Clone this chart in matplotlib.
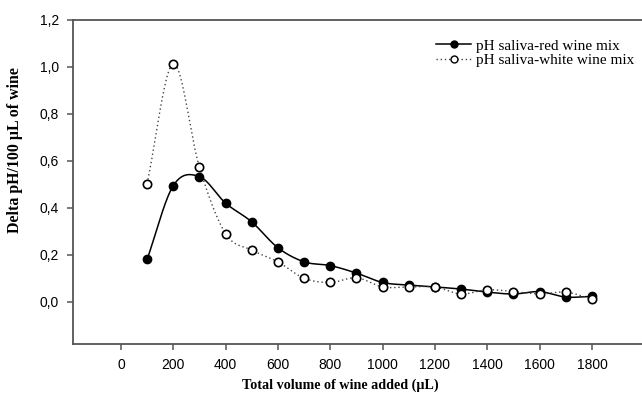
import numpy as np
import matplotlib
matplotlib.use("Agg")
import matplotlib.pyplot as plt
from matplotlib.ticker import FuncFormatter

# volumes added (uL)
volume = [100, 200, 300, 400, 500, 600, 700, 800, 900, 1000,
          1100, 1200, 1300, 1400, 1500, 1600, 1700, 1800]

red_wine = [0.18, 0.494, 0.533, 0.42, 0.34, 0.23, 0.17, 0.154, 0.122, 0.082,
            0.071, 0.063, 0.054, 0.041, 0.033, 0.043, 0.020, 0.023]
white_wine = [0.503, 1.014, 0.573, 0.29, 0.22, 0.17, 0.10, 0.082, 0.102, 0.063,
              0.063, 0.063, 0.033, 0.051, 0.043, 0.033, 0.041, 0.011]

x_ticks = [0, 200, 400, 600, 800, 1000, 1200, 1400, 1600, 1800]
y_ticks = [0.0, 0.2, 0.4, 0.6, 0.8, 1.0, 1.2]


def smooth(x, y, n=30):
    # catmull-rom style cubic through the points
    x = np.asarray(x, float)
    y = np.asarray(y, float)
    m = np.gradient(y, x)
    xs, ys = [], []
    for i in range(len(x) - 1):
        h = x[i + 1] - x[i]
        t = np.linspace(0, 1, n)
        h00 = 2 * t**3 - 3 * t**2 + 1
        h10 = t**3 - 2 * t**2 + t
        h01 = -2 * t**3 + 3 * t**2
        h11 = t**3 - t**2
        xs.append(x[i] + t * h)
        ys.append(h00 * y[i] + h10 * h * m[i] + h01 * y[i + 1] + h11 * h * m[i + 1])
    return np.concatenate(xs), np.concatenate(ys)


fig = plt.figure(figsize=(6.42, 3.96), dpi=100)
ax = fig.add_axes([0.1137, 0.1313, 0.8863, 0.8182])

sx, sy = smooth(volume, red_wine)
ax.plot(sx, sy, color='black', lw=1.1, zorder=2)
sx, sy = smooth(volume, white_wine)
ax.plot(sx, sy, color='#444444', lw=1.0, ls=(0, (1, 2)), zorder=2)

ax.plot(volume, red_wine, 'o', color='black', ms=6, zorder=3)
ax.plot(volume, white_wine, 'o', mfc='white', mec='black', mew=1.2, ms=6, zorder=3)

# legend proxies
h1, = ax.plot([], [], '-o', color='black', lw=1.1, ms=5)
h2, = ax.plot([], [], 'o', ls=(0, (1, 2)), color='#444444', lw=1.0,
              mfc='white', mec='black', ms=5)
ax.legend([h1, h2], ['pH saliva-red wine mix', 'pH saliva-white wine mix'],
          loc='upper right', bbox_to_anchor=(0.997, 0.96), frameon=False,
          prop={'family': 'Liberation Serif', 'size': 11},
          handlelength=2.3, handletextpad=0.3, labelspacing=0.05,
          borderaxespad=0)

ax.set_xlim(-183, 1991)
ax.set_ylim(-0.18, 1.2)
ax.set_xticks(x_ticks)
ax.set_yticks(y_ticks)
ax.yaxis.set_major_formatter(FuncFormatter(lambda v, p: ('%.1f' % v).replace('.', ',')))

for s in ['left', 'top', 'bottom']:
    ax.spines[s].set_color('#555555')
    ax.spines[s].set_linewidth(1.3)
ax.spines['right'].set_visible(False)

ax.tick_params(direction='out', length=4, width=1.1, color='#555555',
               labelsize=10, pad=6)
for lab in ax.get_xticklabels() + ax.get_yticklabels():
    lab.set_family('Liberation Sans')

ax.set_xlabel('Total volume of wine added (\u00b5L)', family='Liberation Serif',
              fontweight='bold', fontsize=10.2)
ax.set_ylabel('Delta pH/100 \u00b5L of wine', family='Liberation Serif',
              fontweight='bold', fontsize=11.4)
ax.xaxis.set_label_coords(0.469, -0.105)
ax.yaxis.set_label_coords(-0.087, 0.6)

fig.savefig('out.png', dpi=100)
